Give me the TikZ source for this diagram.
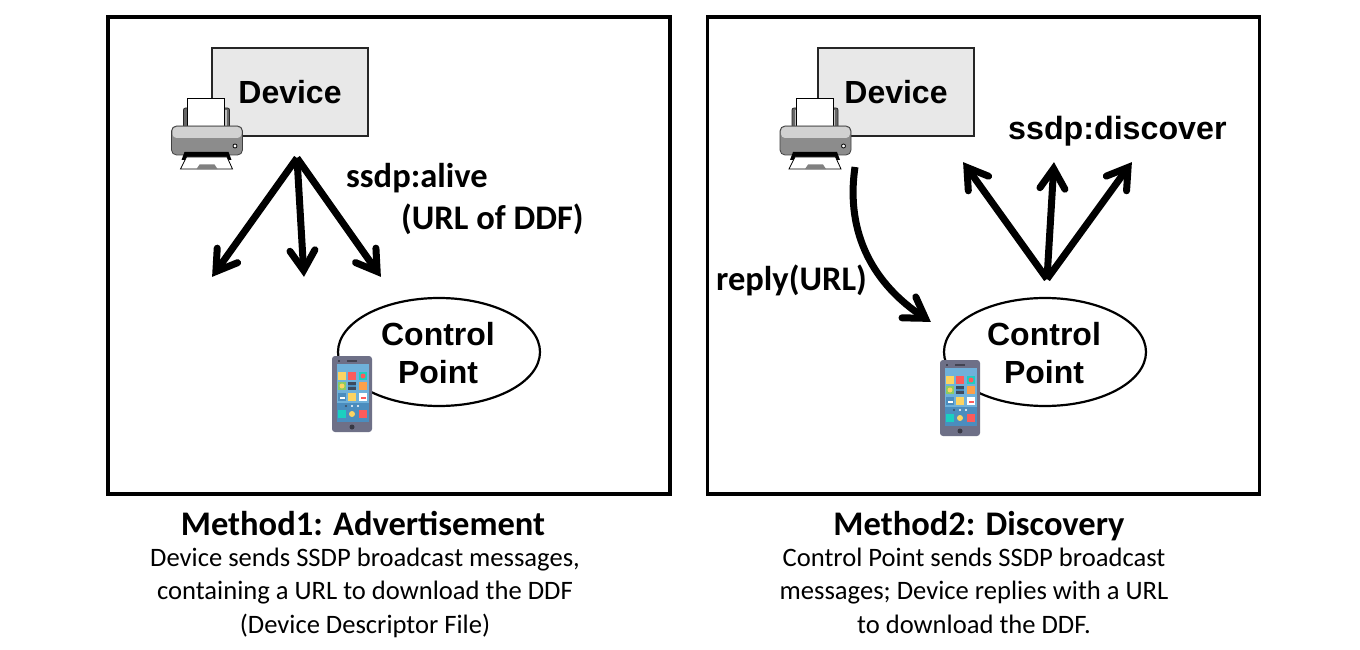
\documentclass[tikz,border=0pt]{standalone}
\usepackage{fontspec}
\setmainfont{Carlito}
\newfontfamily\arialf{Liberation Sans}
\usetikzlibrary{arrows.meta,shapes.geometric}
\pgfdeclarearrow{
  name=RBarb,
  setup code={\pgfarrowssettipend{0pt}\pgfarrowssetlineend{-10pt}\pgfarrowssetvisualbackend{-28pt}\pgfarrowssetbackend{-28pt}},
  drawing code={
    \pgfsetlinewidth{7pt}\pgfsetroundcap\pgfsetmiterjoin\pgfsetmiterlimit{10}\pgfsetdash{}{0pt}
    \pgfpathmoveto{\pgfpoint{-26.5pt}{12.5pt}}
    \pgfpathlineto{\pgfpoint{-6.7pt}{0pt}}
    \pgfpathlineto{\pgfpoint{-26.5pt}{-12.5pt}}
    \pgfusepathqstroke
  }
}
\definecolor{phoneb}{HTML}{6E7087}
\definecolor{phonec}{HTML}{6FB1DA}
\definecolor{phoned}{HTML}{4B8DBE}
\definecolor{phy}{HTML}{FCD462}
\definecolor{phr}{HTML}{FC5B5B}
\definecolor{phg}{HTML}{1BCFC0}
\definecolor{phl}{HTML}{8BCB63}
\definecolor{phk}{HTML}{3E4A5E}
\definecolor{pho}{HTML}{FCA04A}
\definecolor{phc}{HTML}{4B8DBE}
\definecolor{phw}{HTML}{FFFFFF}
\tikzset{
  panel/.style={draw=black,line width=3.4pt,fill=white},
  devbox/.style={draw=black!85,line width=2.4pt,fill=black!9,minimum width=156pt,minimum height=88pt,inner sep=0pt,font=\arialf\bfseries\fontsize{32}{36}\selectfont},
  cpell/.style={draw=black,line width=2.2pt,fill=white,ellipse,minimum width=202pt,minimum height=108pt,inner sep=0pt},
  cplabel/.style={font=\arialf\bfseries\fontsize{32}{38.5}\selectfont,align=center,inner sep=0pt},
  lab/.style={font=\bfseries\fontsize{34.5}{40}\selectfont,inner sep=0pt,anchor=base west},
  lab2/.style={font=\arialf\bfseries\fontsize{32.2}{36}\selectfont,inner sep=0pt,anchor=base west},
  titletext/.style={font=\bfseries\fontsize{34.5}{38}\selectfont,inner sep=0pt,anchor=base},
  captext/.style={font=\fontsize{26.6}{33.3}\selectfont,align=center,inner sep=0pt,anchor=base},
  bigarrow/.style={line width=7pt,-RBarb},
  pics/printer/.style={code={
    \fill[black!60,draw=black!85,line width=.8pt,rounded corners=2pt] (12,-18) rectangle (58,6);
    \fill[black!25] (15,-16) rectangle (55,6);
    \fill[white,draw=black,line width=.8pt] (16,-28) rectangle (53,5);
    \fill[black!45,draw=black!75,line width=.8pt,rounded corners=5pt] (0,0) rectangle (71,29);
    \fill[black!18,rounded corners=4pt] (1,1) rectangle (70,12);
    \fill[black] (13,26) -- (57,26) -- (60,34) -- (10,34) -- cycle;
    \fill[white,draw=black,line width=.8pt] (15,31) -- (55.5,31) -- (61,43) -- (9,43) -- cycle;
    \fill[black!50] (25,43) -- (28,38.5) -- (43,38.5) -- (46,43) -- cycle;
    \fill[white,draw=black,line width=.8pt] (63.5,20) circle (2pt);
  }},
  pics/phone/.style={code={
    \fill[phoneb,rounded corners=3pt] (0,0) rectangle (40,76);
    \fill[phonec] (5,8) rectangle (37,66);
    \fill[phoned] (5,47) rectangle (37,66);
    \fill[phoneb!60!black] (15,4) rectangle (25,6);
    \fill[phoneb!60!black] (6,4) rectangle (8,6);
    \fill[phoneb!50!black] (20,71) circle (2.5pt);
    \foreach \xx/\yy/\cc in {6/16/phy,16/16/phr,27/16/phg,6/26/phl,16/26/phk,27/26/pho,6/37/phc,16/37/phy,27/37/phw,6/54/phg,16/54/phc,27/54/phr}
      \fill[\cc] (\xx,\yy) rectangle ++(8,8);
    \fill[phr] (31,20) circle (2.5pt);
    \fill[phy] (10,30) circle (2.5pt);
    \fill[phc] (16,29) rectangle (24,31);
    \fill[white] (7.5,41) rectangle (12.5,43);
    \fill[phr] (28.5,41) rectangle (33.5,43);
    \fill[phy] (20,58) circle (3pt);
    \fill[phk] (14,50) circle (1.1pt);
    \foreach \xx in {20,26} \fill[white] (\xx,50) circle (1.1pt);
  }}
}
\begin{document}
\begin{tikzpicture}[x=1pt,y=-1pt]
\useasboundingbox (0,0) rectangle (1360,650);
\fill[white] (0,0) rectangle (1360,650);
% panels
\node[panel,minimum width=562pt,minimum height=477pt,inner sep=0pt] (p1) at (389,255.5) {};
\node[panel,minimum width=552pt,minimum height=477pt,inner sep=0pt] (p2) at (983.5,255.5) {};
% left
\node[devbox] (d1) at (290,92) {\raisebox{-1.5pt}{Device}};
\pic at (171.5,126) {printer};
\node[cpell] (c1) at (439,352) {};
\node[cplabel] (cl1) at (438,353) {Control\\Point};
\pic at (332,356) {phone};
\coordinate (s1) at (297,158);
\coordinate (e1a) at (212,277);
\coordinate (e1b) at (304,277);
\coordinate (e1c) at (381,277);
\draw[bigarrow] (s1) -- (e1a);
\draw[bigarrow] (s1) -- (e1b);
\draw[bigarrow] (s1) -- (e1c);
\node[lab] (alive) at (346,187) {ssdp:alive};
\node[lab] (url) at (401,229) {(URL of DDF)};
% right
\node[devbox] (d2) at (896,92) {\raisebox{-1.5pt}{Device}};
\pic at (780,126) {printer};
\node[cpell] (c2) at (1045,352) {};
\node[cplabel] (cl2) at (1044,353) {Control\\Point};
\pic at (940,360) {phone};
\coordinate (s2) at (1047,279);
\coordinate (e2a) at (963,162);
\coordinate (e2b) at (1054,162);
\coordinate (e2c) at (1132,162);
\draw[bigarrow] (s2) -- (e2a);
\draw[bigarrow] (s2) -- (e2b);
\draw[bigarrow] (s2) -- (e2c);
\node[lab2] (disc) at (1008,140) {ssdp:discover};
\coordinate (r1) at (855,167);
\coordinate (r2) at (931,322);
\draw[bigarrow] (r1) .. controls (845,235) and (875,285) .. (r2);
\node[lab] (reply) at (716,290) {reply(URL)};
% captions
\node[titletext] (t1) at (363,535) {Method1: Advertisement};
\node[captext,anchor=north] (k1) at (365,548) {Device sends SSDP broadcast messages,\\containing a URL to download the DDF\\(Device Descriptor File)};
\node[titletext] (t2) at (979,535) {Method2: Discovery};
\node[captext,anchor=north] (k2) at (974,548) {Control Point sends SSDP broadcast\\messages; Device replies with a URL\\to download the DDF.};
\end{tikzpicture}
\end{document}
